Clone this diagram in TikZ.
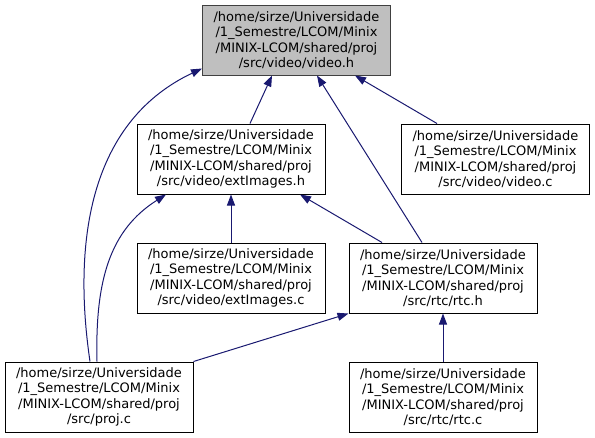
\documentclass[tikz,border=0pt]{standalone}
\usepackage{fontspec}
\setmainfont{DejaVu Sans}
\usetikzlibrary{arrows.meta}
\definecolor{edgeblue}{HTML}{191970}
\definecolor{rootgray}{HTML}{BFBFBF}
\tikzset{
  file/.style={draw=black, line width=1pt, rectangle, minimum width=188pt,
    minimum height=70pt, inner sep=0pt, align=center,
    font=\fontsize{13}{15.5}\selectfont},
  root/.style={file, fill=rootgray, draw=black!75},
  dep/.style={draw=edgeblue, line width=1pt, ->},
}
\begin{document}
\begin{tikzpicture}[x=1pt, y=-1pt, >={Triangle[length=11pt,width=8pt]}]
  \useasboundingbox (0,0) rectangle (595,437);
  % ファイル
  \node[root] (videoh) at (296.5,40) {/home/sirze/Universidade\\/1\_Semestre/LCOM/Minix\\/MINIX-LCOM/shared/proj\\/src/video/video.h};
  \node[file] (extimgh) at (231,159) {/home/sirze/Universidade\\/1\_Semestre/LCOM/Minix\\/MINIX-LCOM/shared/proj\\/src/video/extImages.h};
  \node[file] (videoc) at (495.5,159) {/home/sirze/Universidade\\/1\_Semestre/LCOM/Minix\\/MINIX-LCOM/shared/proj\\/src/video/video.c};
  \node[file] (extimgc) at (231,278) {/home/sirze/Universidade\\/1\_Semestre/LCOM/Minix\\/MINIX-LCOM/shared/proj\\/src/video/extImages.c};
  \node[file] (rtch) at (443,278) {/home/sirze/Universidade\\/1\_Semestre/LCOM/Minix\\/MINIX-LCOM/shared/proj\\/src/rtc/rtc.h};
  \node[file] (projc) at (99,397) {/home/sirze/Universidade\\/1\_Semestre/LCOM/Minix\\/MINIX-LCOM/shared/proj\\/src/proj.c};
  \node[file] (rtcc) at (443,397) {/home/sirze/Universidade\\/1\_Semestre/LCOM/Minix\\/MINIX-LCOM/shared/proj\\/src/rtc/rtc.c};
  % video.h へ
  \draw[dep] ([xshift=19pt]extimgh.north) -- ([xshift=-24.5pt]videoh.south);
  \draw[dep] ([xshift=-21pt]rtch.north) -- ([xshift=20.5pt]videoh.south);
  \draw[dep] ([xshift=-58.5pt]videoc.north) -- ([xshift=58.5pt]videoh.south);
  \draw[dep] ([xshift=-9pt]projc.north) .. controls (78,280) and (72,130) .. ([yshift=7pt]videoh.south west);
  % extImages.h へ
  \draw[dep] ([xshift=-2pt]projc.north) .. controls (95,280) and (110,230) .. ([xshift=-65pt]extimgh.south);
  \draw[dep] (extimgc.north) -- (extimgh.south);
  \draw[dep] ([xshift=-61pt]rtch.north) -- ([xshift=69pt]extimgh.south);
  % rtc.h へ
  \draw[dep] (projc.north east) -- (rtch.south west);
  \draw[dep] (rtcc.north) -- (rtch.south);
\end{tikzpicture}
\end{document}
